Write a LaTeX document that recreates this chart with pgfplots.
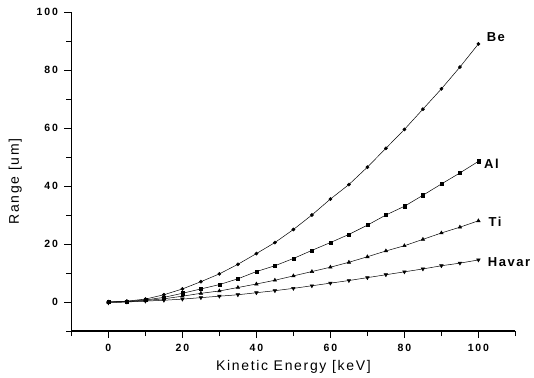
\documentclass[border=0pt]{standalone}
\usepackage{fontspec}
\setmainfont{Liberation Sans}
\newfontfamily\tickfont[LetterSpace=18]{Liberation Sans}
\newfontfamily\labfont[LetterSpace=12]{Liberation Sans}
\usepackage{pgfplots}
\pgfplotsset{compat=1.18}
\begin{document}
\begin{tikzpicture}
\useasboundingbox (0,0) rectangle (534pt,377pt);
\begin{axis}[
  at={(71.4pt,46pt)}, anchor=south west,
  scale only axis, width=444pt, height=319pt,
  xmin=-10, xmax=110, ymin=-10, ymax=100,
  axis x line*=bottom, axis y line*=left,
  axis line style={line width=1.1pt, -},
  xtick={0,20,...,100}, minor xtick={-10,10,...,110},
  ytick={0,20,...,100}, minor ytick={-10,10,...,90},
  tick align=outside, tick style={black, line width=0.9pt},
  major tick length=7pt, minor tick length=5pt,
  /pgf/number format/assume math mode=true,
  tick label style={font=\tickfont\bfseries\fontsize{10.5}{12}\selectfont},
  xticklabel style={yshift=-3pt},
  yticklabel style={xshift=-3pt},
  xlabel={Kinetic Energy [keV]}, ylabel={Range [um]},
  label style={font=\labfont\fontsize{14}{16}\selectfont},
  xlabel style={yshift=-2pt},
  ylabel style={yshift=8pt, xshift=-10pt},
  clip=false,
  every axis plot/.append style={black, line width=0.5pt, mark options={solid, fill=black}},
]
\addplot[mark=*, mark size=1.6pt] coordinates {
(0,0) (5,0.3) (10,1) (15,2.5) (20,4.5) (25,7) (30,9.7) (35,13) (40,16.7) (45,20.5) (50,25) (55,30) (60,35.5) (65,40.5) (70,46.5) (75,53) (80,59.5) (85,66.5) (90,73.5) (95,81) (100,89)};
\addplot[mark=square*, mark size=1.6pt] coordinates {
(0,0) (5,0.2) (10,0.7) (15,1.6) (20,3) (25,4.5) (30,6) (35,8) (40,10.5) (45,12.5) (50,15) (55,17.8) (60,20.5) (65,23.3) (70,26.5) (75,30) (80,33) (85,36.8) (90,40.7) (95,44.5) (100,48.5)};
\addplot[mark=triangle*, mark size=2pt] coordinates {
(0,0) (5,0.1) (10,0.5) (15,1.1) (20,2) (25,3) (30,3.8) (35,5) (40,6.2) (45,7.5) (50,9) (55,10.5) (60,12) (65,13.7) (70,15.6) (75,17.6) (80,19.4) (85,21.6) (90,23.8) (95,25.8) (100,28)};
\addplot[mark=triangle*, mark size=2pt, mark options={rotate=180}] coordinates {
(0,-0.3) (5,0) (10,0.3) (15,0.6) (20,1) (25,1.5) (30,2) (35,2.5) (40,3.2) (45,3.9) (50,4.7) (55,5.6) (60,6.5) (65,7.4) (70,8.4) (75,9.4) (80,10.4) (85,11.4) (90,12.5) (95,13.4) (100,14.5)};
\node[anchor=west, font=\labfont\bfseries\fontsize{13}{15}\selectfont] at (axis cs:101.3,91.3) {Be};
\node[anchor=west, font=\labfont\bfseries\fontsize{13}{15}\selectfont] at (axis cs:100.6,47.6) {Al};
\node[anchor=west, font=\labfont\bfseries\fontsize{13}{15}\selectfont] at (axis cs:101.8,27.8) {Ti};
\node[anchor=west, font=\labfont\bfseries\fontsize{13}{15}\selectfont] at (axis cs:101.6,13.8) {Havar};
\end{axis}
\end{tikzpicture}
\end{document}
